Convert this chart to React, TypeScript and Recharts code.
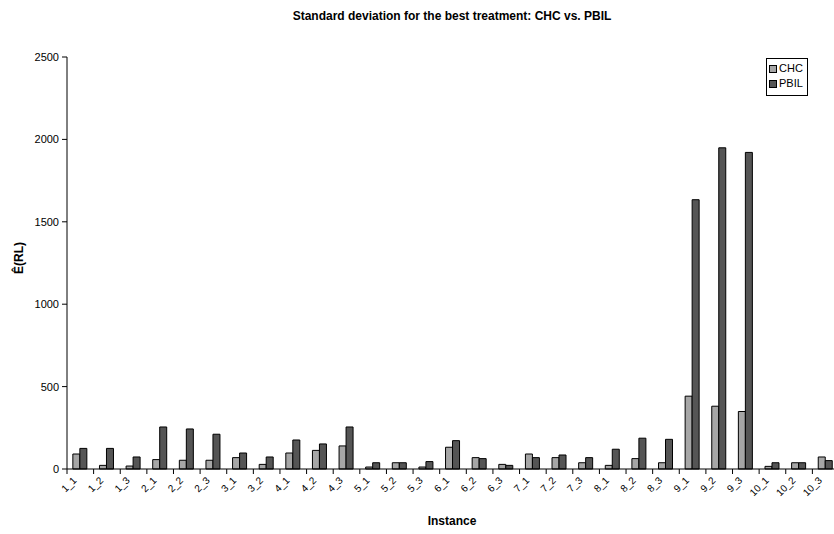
import React from 'react';
import { BarChart, Bar, XAxis, YAxis } from 'recharts';

// instance names (x axis)
const instances = [
  '1_1', '1_2', '1_3', '2_1', '2_2', '2_3', '3_1', '3_2',
  '4_1', '4_2', '4_3', '5_1', '5_2', '5_3', '6_1', '6_2', '6_3',
  '7_1', '7_2', '7_3', '8_1', '8_2', '8_3', '9_1', '9_2', '9_3',
  '10_1', '10_2', '10_3',
];

// std deviation values
const chcValues = [
  91, 22, 18, 57, 53, 53, 69, 28,
  97, 113, 140, 12, 38, 12, 132, 69, 28,
  91, 69, 38, 22, 63, 38, 442, 381, 349,
  16, 38, 73,
];
const pbilValues = [
  125, 125, 73, 255, 243, 211, 97, 73,
  176, 152, 255, 38, 38, 45, 172, 63, 22,
  69, 85, 69, 120, 187, 180, 1634, 1949, 1921,
  38, 38, 51,
];

const yTicks = [0, 500, 1000, 1500, 2000, 2500];

const FONT = '"Liberation Sans", Arial, sans-serif';
const CHC_COLOR = '#a6a6a6';
const PBIL_COLOR = '#555555';

const chartData = instances.map((name, i) => ({
  name,
  CHC: chcValues[i],
  PBIL: pbilValues[i],
}));

// Excel style: tick marks between categories, labels slanted
const InstanceTick = (props: any) => {
  const { x, y, payload } = props;
  const half = payload && payload.offset ? payload.offset : 13.3;
  return (
    <g>
      <line x1={x - half} y1={y} x2={x - half} y2={y + 5} stroke="#000" />
      <text
        x={x - 3}
        y={y + 12}
        textAnchor="end"
        fontSize={10}
        fontFamily={FONT}
        fill="#000"
        transform={`rotate(-45, ${x - 3}, ${y + 12})`}
      >
        {payload.value}
      </text>
    </g>
  );
};

const LegendItem = ({ color, label }: { color: string; label: string }) => (
  <div style={{ display: 'flex', alignItems: 'center', height: 15 }}>
    <span
      style={{
        display: 'inline-block',
        width: 6,
        height: 6,
        background: color,
        border: '1px solid #000',
        marginRight: 2,
      }}
    />
    <span>{label}</span>
  </div>
);

export default function App() {
  return (
    <div
      style={{
        position: 'fixed',
        left: 0,
        top: 0,
        width: 834,
        height: 534,
        overflow: 'hidden',
        background: '#fff',
        fontFamily: FONT,
      }}
    >
      <div
        style={{
          position: 'absolute',
          left: 0,
          width: 904,
          top: 9,
          textAlign: 'center',
          fontSize: 12,
          fontWeight: 'bold',
        }}
      >
        Standard deviation for the best treatment: CHC vs. PBIL
      </div>

      <BarChart
        width={860}
        height={534}
        data={chartData}
        margin={{ top: 57, right: 21, bottom: 0, left: 0 }}
        barCategoryGap="22%"
        barGap={0}
      >
        <XAxis
          dataKey="name"
          interval={0}
          height={65}
          tickSize={0}
          tickMargin={0}
          tickLine={false}
          axisLine={{ stroke: '#000' }}
          tick={<InstanceTick />}
        />
        <YAxis
          width={67}
          domain={[0, 2500]}
          ticks={yTicks}
          interval={0}
          tickSize={5}
          tickMargin={3}
          axisLine={{ stroke: '#000' }}
          tickLine={{ stroke: '#000' }}
          tick={{ fontSize: 11, fill: '#000', fontFamily: FONT }}
        />
        <Bar dataKey="CHC" fill={CHC_COLOR} stroke="#000" strokeWidth={1} isAnimationActive={false} />
        <Bar dataKey="PBIL" fill={PBIL_COLOR} stroke="#000" strokeWidth={1} isAnimationActive={false} />
      </BarChart>

      <div
        style={{
          position: 'absolute',
          left: 0,
          top: 250,
          width: 40,
          height: 16,
          textAlign: 'center',
          fontSize: 12,
          fontWeight: 'bold',
          transform: 'rotate(-90deg)',
        }}
      >
        Ê(RL)
      </div>

      <div
        style={{
          position: 'absolute',
          left: 0,
          width: 904,
          top: 514,
          textAlign: 'center',
          fontSize: 12,
          fontWeight: 'bold',
        }}
      >
        Instance
      </div>

      <div
        style={{
          position: 'absolute',
          left: 766,
          top: 58,
          width: 42,
          height: 38,
          border: '1px solid #000',
          padding: '2px 0 0 2px',
          boxSizing: 'border-box',
          fontSize: 11,
          lineHeight: '15px',
        }}
      >
        <LegendItem color={CHC_COLOR} label="CHC" />
        <LegendItem color={PBIL_COLOR} label="PBIL" />
      </div>
    </div>
  );
}
